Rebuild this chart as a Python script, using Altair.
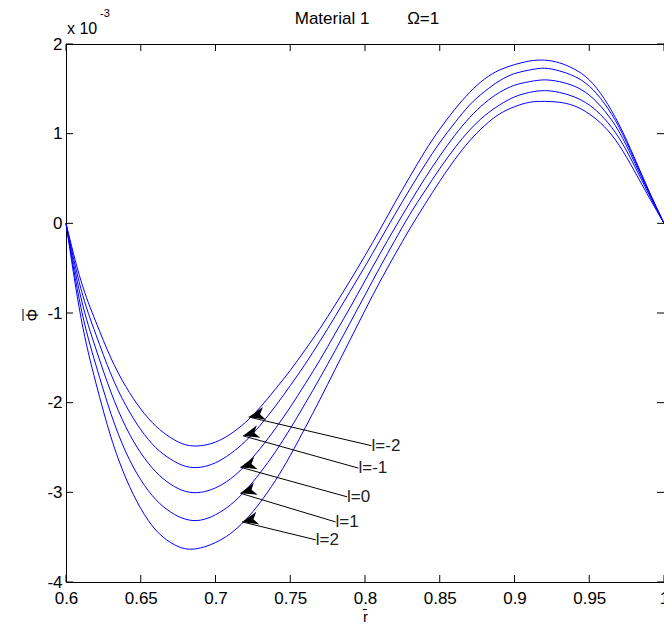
import math
import altair as alt
import pandas as pd

# ---- data (Phi values in units of 1e-3), r from 0.60 to 1.00 in steps of 0.01 ----
r = [0.60, 0.61, 0.62, 0.63, 0.64, 0.65, 0.66, 0.67, 0.68, 0.69,
     0.70, 0.71, 0.72, 0.73, 0.74, 0.75, 0.76, 0.77, 0.78, 0.79,
     0.80, 0.81, 0.82, 0.83, 0.84, 0.85, 0.86, 0.87, 0.88, 0.89,
     0.90, 0.91, 0.92, 0.93, 0.94, 0.95, 0.96, 0.97, 0.98, 0.99, 1.00]

phi_l_m2 = [0, -0.64, -1.10, -1.50, -1.82, -2.07, -2.26, -2.39, -2.47, -2.48,
            -2.44, -2.35, -2.22, -2.05, -1.85, -1.64, -1.41, -1.17, -0.91, -0.64,
            -0.36, -0.07, 0.23, 0.52, 0.80, 1.05, 1.27, 1.46, 1.61, 1.71,
            1.77, 1.81, 1.82, 1.79, 1.72, 1.60, 1.39, 1.10, 0.74, 0.36, 0]
phi_l_m1 = [0, -0.73, -1.24, -1.68, -2.03, -2.30, -2.50, -2.63, -2.71, -2.72,
            -2.67, -2.57, -2.43, -2.25, -2.04, -1.81, -1.57, -1.31, -1.04, -0.76,
            -0.48, -0.19, 0.10, 0.38, 0.65, 0.90, 1.12, 1.32, 1.47, 1.59,
            1.67, 1.71, 1.73, 1.70, 1.64, 1.53, 1.34, 1.07, 0.72, 0.35, 0]
phi_l_0 = [0, -0.83, -1.40, -1.88, -2.27, -2.56, -2.77, -2.91, -2.99, -3.00,
           -2.95, -2.85, -2.70, -2.51, -2.29, -2.05, -1.79, -1.52, -1.23, -0.94,
           -0.64, -0.34, -0.05, 0.23, 0.50, 0.75, 0.98, 1.18, 1.34, 1.46,
           1.54, 1.58, 1.60, 1.58, 1.53, 1.43, 1.26, 1.02, 0.69, 0.34, 0]
phi_l_1 = [0, -0.94, -1.58, -2.12, -2.55, -2.86, -3.08, -3.22, -3.30, -3.31,
           -3.25, -3.14, -2.98, -2.78, -2.55, -2.29, -2.01, -1.72, -1.42, -1.11,
           -0.80, -0.49, -0.19, 0.10, 0.36, 0.61, 0.84, 1.04, 1.20, 1.32,
           1.41, 1.46, 1.48, 1.46, 1.41, 1.32, 1.17, 0.95, 0.65, 0.32, 0]
phi_l_2 = [0, -1.05, -1.78, -2.38, -2.84, -3.18, -3.42, -3.56, -3.63, -3.62,
           -3.56, -3.46, -3.31, -3.11, -2.87, -2.59, -2.28, -1.96, -1.63, -1.30,
           -0.97, -0.65, -0.35, -0.06, 0.21, 0.47, 0.71, 0.92, 1.09, 1.22,
           1.30, 1.35, 1.36, 1.35, 1.31, 1.22, 1.08, 0.87, 0.59, 0.29, 0]

labels = ["l=-2", "l=-1", "l=0", "l=1", "l=2"]
series = [phi_l_m2, phi_l_m1, phi_l_0, phi_l_1, phi_l_2]

# annotation arrows (data coordinates): tip and tail
tip_r = [0.7222, 0.7184, 0.7166, 0.7166, 0.7178]
tip_phi = [-2.16, -2.37, -2.72, -3.01, -3.33]
tail_r = [0.8044, 0.7956, 0.7880, 0.7803, 0.7671]
tail_phi = [-2.48, -2.73, -3.05, -3.33, -3.53]

x_ticks = [0.6, 0.65, 0.7, 0.75, 0.8, 0.85, 0.9, 0.95, 1.0]
y_ticks = [-4, -3, -2, -1, 0, 1, 2]

title_text = "Material 1" + "\u00a0" * 8 + "\u03a9=1"

# ---- layout ----
W, H = 598, 538
X0, X1, Y0, Y1 = 0.6, 1.0, -4, 2
FONT = "Liberation Sans"

rows = []
for lab, vals in zip(labels, series):
    for ri, v in zip(r, vals):
        rows.append({"r": ri, "phi": v, "l": lab})
df = pd.DataFrame(rows)

ann = pd.DataFrame({
    "label": labels, "tr": tip_r, "tp": tip_phi, "er": tail_r, "ep": tail_phi,
})
px_per_r = W / (X1 - X0)
px_per_phi = H / (Y1 - Y0)
ann["angle"] = [
    math.degrees(math.atan2((ep - tp) * px_per_phi, (er - tr) * px_per_r)) % 360
    for tr, tp, er, ep in zip(tip_r, tip_phi, tail_r, tail_phi)
]

xs = alt.Scale(domain=[X0, X1], nice=False, zero=False)
ys = alt.Scale(domain=[Y0, Y1], nice=False, zero=False)
xaxis = alt.Axis(values=x_ticks, labelExpr="datum.value + ''", title="r\u0304",
                 ticks=False, labelPadding=8, titlePadding=3, domain=False)
yaxis = alt.Axis(values=y_ticks, labelExpr="datum.value + ''", title=None,
                 ticks=False, labelPadding=4, domain=False)


def X(field):
    return alt.X(field, scale=xs, axis=xaxis)


def Y(field):
    return alt.Y(field, scale=ys, axis=yaxis)


lines = alt.Chart(df).mark_line(
    color="#0000ff", strokeWidth=1, interpolate="natural"
).encode(x=X("r:Q"), y=Y("phi:Q"), detail="l:N")

xt = pd.DataFrame({"v": x_ticks})
yt = pd.DataFrame({"v": y_ticks})
tick_len = 7
ticks_bottom = alt.Chart(xt).mark_rule(color="black", strokeWidth=1).encode(
    x=X("v:Q"), y=alt.value(H), y2=alt.value(H - tick_len))
ticks_top = alt.Chart(xt).mark_rule(color="black", strokeWidth=1).encode(
    x=X("v:Q"), y=alt.value(0), y2=alt.value(tick_len))
ticks_left = alt.Chart(yt).mark_rule(color="black", strokeWidth=1).encode(
    y=Y("v:Q"), x=alt.value(0), x2=alt.value(tick_len))
ticks_right = alt.Chart(yt).mark_rule(color="black", strokeWidth=1).encode(
    y=Y("v:Q"), x=alt.value(W), x2=alt.value(W - tick_len))

arrow_lines = alt.Chart(ann).mark_rule(color="black", strokeWidth=1).encode(
    x=X("tr:Q"), y=Y("tp:Q"), x2="er:Q", y2="ep:Q")

head_path = "M0,0 L2,-0.8 L1.45,0 L2,0.8 Z"
arrow_heads = alt.Chart(ann).mark_point(
    shape=head_path, filled=True, color="black", size=260, opacity=1
).encode(x=X("tr:Q"), y=Y("tp:Q"), angle=alt.Angle("angle:Q", scale=None))

arrow_text = alt.Chart(ann).mark_text(
    align="left", baseline="middle", font=FONT, fontSize=17, color="#222222"
).encode(x=X("er:Q"), y=Y("ep:Q"), text="label:N")

title_mark = alt.Chart(pd.DataFrame({"t": [title_text]})).mark_text(
    align="center", baseline="alphabetic", font=FONT, fontSize=17, color="black"
).encode(x=alt.value(301), y=alt.value(-20), text="t:N")

mult = alt.Chart(pd.DataFrame({"t": ["x 10"]})).mark_text(
    align="left", baseline="alphabetic", font=FONT, fontSize=16, color="black"
).encode(x=alt.value(1), y=alt.value(-10), text="t:N")
mult_exp = alt.Chart(pd.DataFrame({"t": ["-3"]})).mark_text(
    align="left", baseline="alphabetic", font=FONT, fontSize=11, color="black"
).encode(x=alt.value(34), y=alt.value(-27), text="t:N")

ytitle = alt.Chart(pd.DataFrame({"t": ["\u03a6"]})).mark_text(
    align="center", baseline="middle", font=FONT, fontSize=16, color="black", angle=270
).encode(x=alt.value(-33), y=alt.value(H / 2 + 2), text="t:N")
ytitle_bar = alt.Chart(pd.DataFrame({"t": ["bar"]})).mark_rule(
    color="black", strokeWidth=1
).encode(x=alt.value(-43), y=alt.value(H / 2 - 4), y2=alt.value(H / 2 + 8))

chart = alt.layer(
    lines, ticks_bottom, ticks_top, ticks_left, ticks_right,
    arrow_lines, arrow_heads, arrow_text, title_mark, mult, mult_exp,
    ytitle, ytitle_bar,
).properties(
    width=W, height=H,
    autosize=alt.AutoSizeParams(type="none"),
    padding={"left": 58, "top": 36, "right": 0, "bottom": 42},
).configure_view(
    stroke="black", strokeWidth=1
).configure_axis(
    labelFont=FONT, labelFontSize=17, labelColor="black",
    titleFont=FONT, titleFontSize=15, titleColor="black", titleFontWeight="normal",
    grid=False,
).configure_axisX(labelFlush=False)

chart.save("out.html", embed_options={"renderer": "svg", "actions": False})
